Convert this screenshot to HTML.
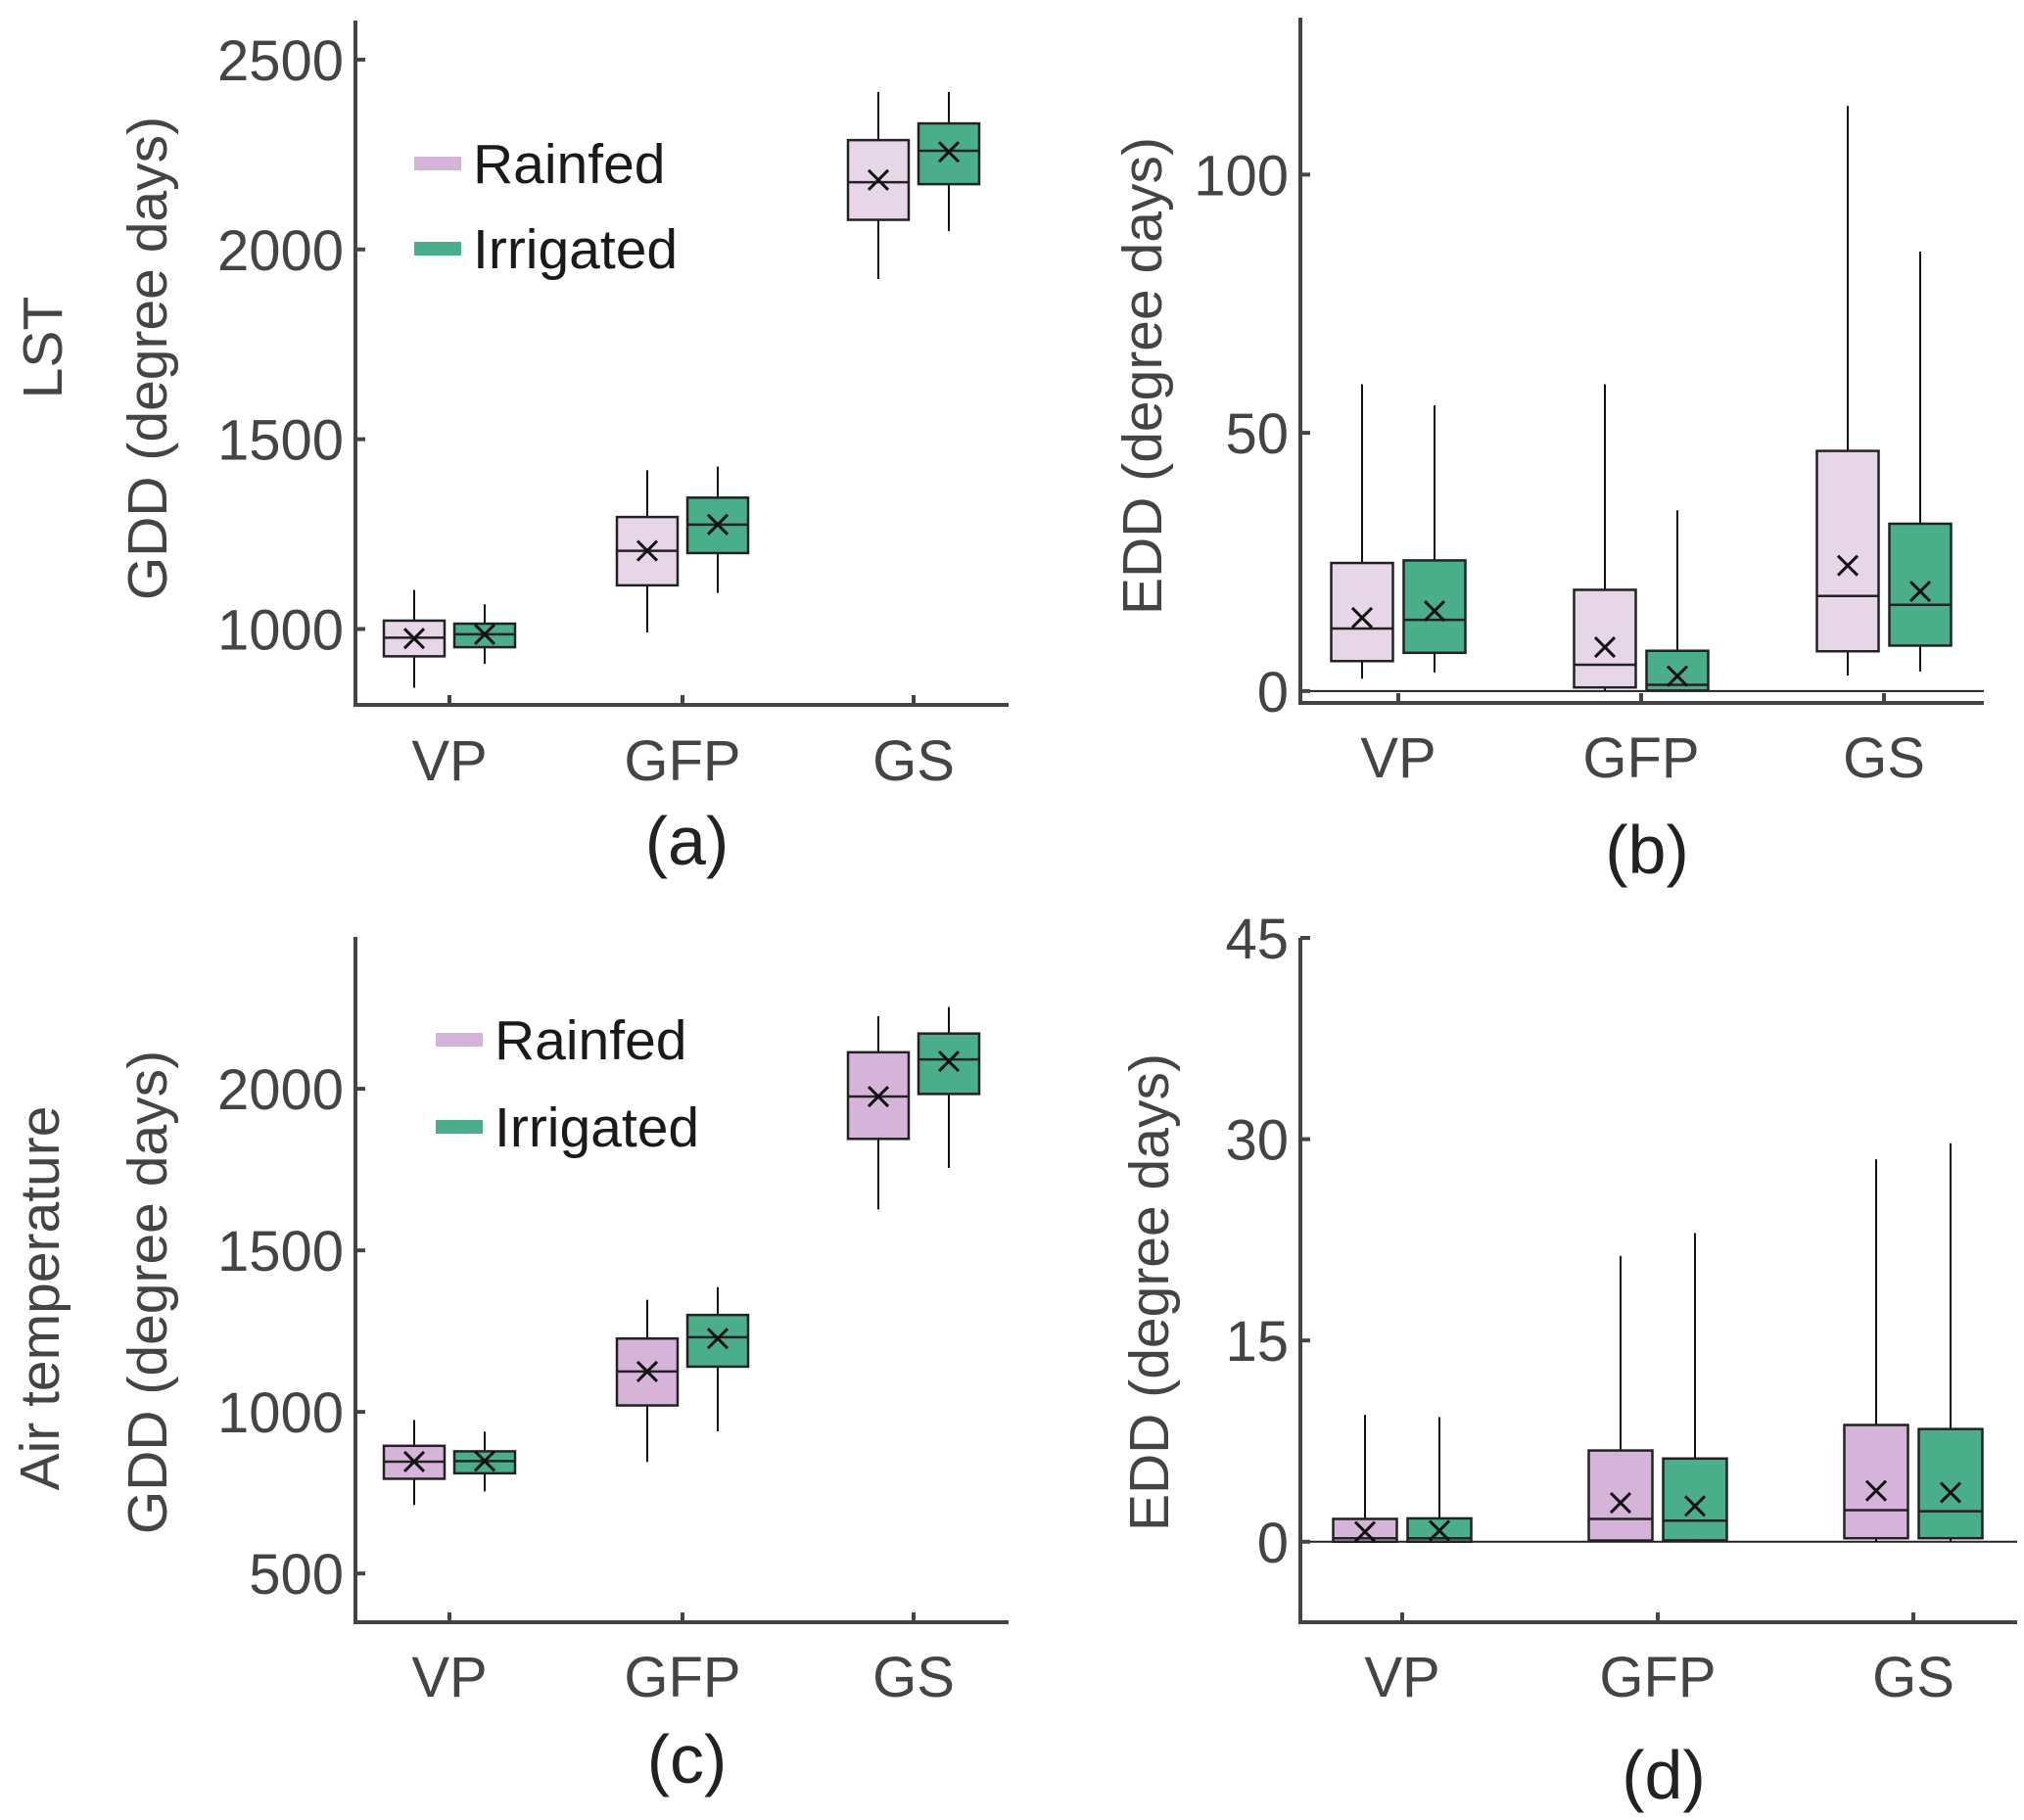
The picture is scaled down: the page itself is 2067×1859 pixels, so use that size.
<!DOCTYPE html>
<html><head><meta charset="utf-8"><style>
html,body{margin:0;padding:0;background:#fff}
svg{display:block}
</style></head><body>
<svg id="fig" width="2067" height="1859" viewBox="0 0 2067 1859" xmlns="http://www.w3.org/2000/svg"></svg>
<script>
const categories = ["VP","GFP","GS"];
// panel a: LST GDD  [whiskerLow, q1, median, q3, whiskerHigh, mean]
const aRain = [[845,928,977,1022,1103,975],[991,1115,1206,1295,1418,1206],[1922,2078,2177,2288,2415,2183]];
const aIrr  = [[908,952,986,1014,1065,986],[1095,1200,1275,1346,1428,1275],[2048,2172,2260,2332,2415,2257]];
const aTicks = [1000,1500,2000,2500];
// panel b: LST EDD
const bRain = [[2.4,5.8,12.1,24.8,59.4,14.2],[0,0.7,5.1,19.6,59.4,8.5],[3.0,7.7,18.4,46.5,113.3,24.3]];
const bIrr  = [[3.6,7.4,13.8,25.3,55.3,15.5],[0,0.1,1.2,7.8,35.0,2.9],[3.8,8.8,16.7,32.4,85.1,19.3]];
const bTicks = [0,50,100];
// panel c: Air GDD
const cRain = [[712,793,846,895,975,846],[845,1020,1125,1227,1347,1125],[1627,1845,1976,2113,2225,1976]];
const cIrr  = [[754,810,848,878,939,848],[940,1140,1231,1300,1386,1227],[1755,1984,2091,2171,2253,2085]];
const cTicks = [500,1000,1500,2000];
// panel d: Air EDD
const dRain = [[0,0,0.26,1.7,9.46,0.74],[0,0.09,1.7,6.8,21.3,2.9],[0,0.26,2.35,8.7,28.5,3.8]];
const dIrr  = [[0,0,0.26,1.74,9.29,0.83],[0,0.1,1.57,6.2,23.0,2.66],[0,0.26,2.27,8.4,29.7,3.66]];
const dTicks = [0,15,30,45];

const NS="http://www.w3.org/2000/svg";
const svg=document.getElementById('fig');
function mk(tag,attrs,parent){const e=document.createElementNS(NS,tag);for(const k in attrs)e.setAttribute(k,attrs[k]);(parent||svg).appendChild(e);return e;}

const panels=[
 {id:'a',rain:aRain,irr:aIrr,ticks:aTicks,ax:363,top:21,bot:720,right:1030,ymin:800,ymax:2603,cx:[459,697,933],off:36,bw:62,
  rainCol:'#e7d6e8',ylab:'GDD (degree days)',ylx:150,yly:366,row:'LST',rowx:43,rowy:355,xl:776,pl:858,plabel:'(a)',legend:[167,254,423,483],zero:false,font:'"Liberation Sans", sans-serif'},
 {id:'b',rain:bRain,irr:bIrr,ticks:bTicks,ax:1328,top:18,bot:718,right:2026,ymin:-2.3,ymax:130.4,cx:[1428,1676,1924],off:37,bw:63,
  rainCol:'#e7d6e8',ylab:'EDD (degree days)',ylx:1166,yly:384,xl:773,pl:867,plabel:'(b)',zero:true,font:'"Liberation Sans", sans-serif'},
 {id:'c',rain:cRain,irr:cIrr,ticks:cTicks,ax:363,top:957,bot:1657,right:1030,ymin:349,ymax:2470,cx:[459,697,933],off:36,bw:62,
  rainCol:'#d6b4d9',ylab:'GDD (degree days)',ylx:150,yly:1320,row:'Air temperature',rowx:40,rowy:1326,xl:1712,pl:1796,plabel:'(c)',legend:[1062,1151,445,505],zero:false,font:'"Liberation Sans", sans-serif'},
 {id:'d',rain:dRain,irr:dIrr,ticks:dTicks,ax:1328,top:958,bot:1657,right:2060,ymin:-6.0,ymax:45,cx:[1432,1693,1954],off:38,bw:65,
  rainCol:'#d6b4d9',ylab:'EDD (degree days)',ylx:1173,yly:1320,xl:1712,pl:1812,plabel:'(d)',zero:true,font:'"Liberation Sans", sans-serif'}
];

panels.forEach(p=>{
  const g=mk('g',{});
  
  
  const Y=v=>p.bot-(v-p.ymin)/(p.ymax-p.ymin)*(p.bot-p.top);
  if(p.zero){
    const z=mk('line',{x1:p.ax,x2:p.right,y1:Y(0),y2:Y(0),stroke:'#222','stroke-width':2},g);
    
    
  }
  [[p.rain,p.rainCol,-1,'rainfed'],[p.irr,'#4aae8a',1,'irrigated']].forEach(([ser,col,sgn,nm])=>{
    ser.forEach((s,i)=>{
      const cx=p.cx[i]+sgn*p.off;
      const bg=mk('g',{},g);
      
      
      mk('line',{x1:cx,x2:cx,y1:Y(s[4]),y2:Y(s[0]),stroke:'#111','stroke-width':2},bg);
      mk('rect',{x:cx-p.bw/2,y:Y(s[3]),width:p.bw,height:Y(s[1])-Y(s[3]),fill:col,stroke:'#222','stroke-width':2.5},bg);
      mk('line',{x1:cx-p.bw/2,x2:cx+p.bw/2,y1:Y(s[2]),y2:Y(s[2]),stroke:'#222','stroke-width':2.5},bg);
      const my=Y(s[5]),r=10;
      mk('path',{d:`M${cx-r} ${my-r}L${cx+r} ${my+r}M${cx-r} ${my+r}L${cx+r} ${my-r}`,stroke:'#111','stroke-width':3,fill:'none'},bg);
    });
  });
  const ya=mk('line',{x1:p.ax,x2:p.ax,y1:p.top,y2:p.bot+2,stroke:'#444','stroke-width':4},g);
  
  
  const xa=mk('line',{x1:p.ax-2,x2:p.right,y1:p.bot,y2:p.bot,stroke:'#444','stroke-width':4},g);
  
  
  p.ticks.forEach(t=>{
    const y=Y(t);
    mk('line',{x1:p.ax,x2:p.ax+10,y1:y,y2:y,stroke:'#444','stroke-width':4},g);
    const tx=mk('text',{x:p.ax-12,y:y+21,'text-anchor':'end','font-size':58,fill:'#444','font-family':p.font},g);
    tx.textContent=t;
    
    
  });
  categories.forEach((c,i)=>{
    mk('line',{x1:p.cx[i],x2:p.cx[i],y1:p.bot,y2:p.bot-10,stroke:'#444','stroke-width':4},g);
    const tx=mk('text',{x:p.cx[i],y:p.xl+21,'text-anchor':'middle','font-size':58,fill:'#444','font-family':p.font},g);
    tx.textContent=c;
    
    
  });
  const yl=mk('text',{x:0,y:0,'text-anchor':'middle','font-size':57,fill:'#444','font-family':p.font,transform:`translate(${p.ylx+20},${p.yly}) rotate(-90)`},g);
  yl.textContent=p.ylab;
  
  
  if(p.row){
    const rl=mk('text',{x:0,y:0,'text-anchor':'middle','font-size':57,fill:'#444','font-family':p.font,transform:`translate(${p.rowx+20},${p.rowy}) rotate(-90)`},g);
    rl.textContent=p.row;
    
    
  }
  const pl=mk('text',{x:(p.ax+p.right)/2+5,y:p.pl+25,'text-anchor':'middle','font-size':70,fill:'#222','font-family':p.font},g);
  pl.textContent=p.plabel;
  
  
  if(p.legend){
    const [y1,y2,sx,tx]=p.legend;
    const lg=mk('g',{},g);
    
    
    [[y1,'#d6b4d9','Rainfed'],[y2,'#4aae8a','Irrigated']].forEach(([yy,col,lab])=>{
      mk('rect',{x:sx,y:yy-7,width:48,height:14,fill:col},lg);
      const t=mk('text',{x:tx,y:yy+20,'font-size':57,fill:'#1a1a1a','font-family':p.font},lg);
      t.textContent=lab;
      
      
    });
  }
});
</script>
</body></html>
